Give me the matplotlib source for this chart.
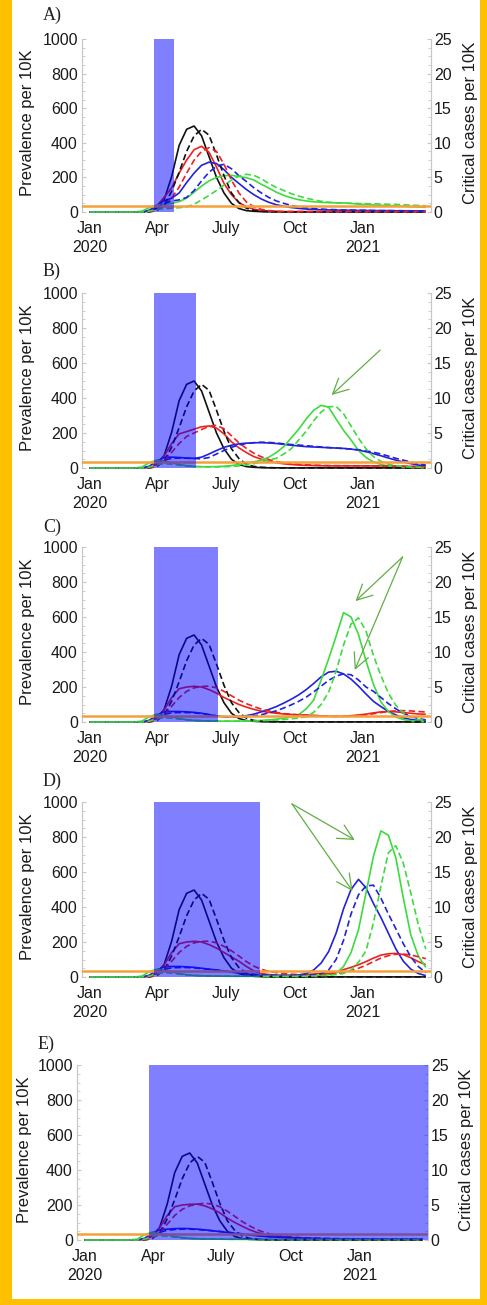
import matplotlib
matplotlib.use("Agg")
import matplotlib.pyplot as plt
from matplotlib.patches import Rectangle

plt.rcParams['font.family'] = ['Liberation Sans', 'DejaVu Sans']

# ---------------- data ----------------
DAYS = [0, 60, 70, 80, 90, 100, 110, 120, 130, 140, 150, 160, 170, 180, 190, 200,
        210, 220, 230, 240, 250, 260, 270, 280, 290, 300, 310, 320, 330, 340, 350,
        360, 370, 380, 390, 400, 410, 420, 430, 440, 450]

XTICKS = [0, 91, 182, 274, 366]
XTICK_LABELS = ['Jan\n2020', 'Apr', 'July', 'Oct', 'Jan\n2021']
YTICKS_LEFT = [0, 200, 400, 600, 800, 1000]
YTICKS_RIGHT = [0, 5, 10, 15, 20, 25]
CAPACITY = 0.8  # critical-care capacity per 10K (right axis)

# shared unmitigated (black) curves
BLACK_PREV = [0, 0, 0, 5, 22, 72, 205, 385, 478, 497, 440, 320, 200, 110, 50, 20, 8, 4, 2, 1, 1,
              0.5, 0.5, 0.5, 0.5, 0.5, 0.5, 0.5, 0.5, 0.5, 0.5, 0.5, 0.5, 0.5, 0.5, 0.5, 0.5, 0.5, 0.5, 0.5, 0.5]
BLACK_CRIT = [0, 0, 0, 0, 0.2, 1.0, 3.0, 5.75, 8.75, 11.0, 11.95, 11.1, 8.25, 5.25, 2.75, 1.35, 0.55, 0.22, 0.1, 0.05, 0.03,
              0.02, 0.02, 0.02, 0.02, 0.02, 0.02, 0.02, 0.02, 0.02, 0.02, 0.02, 0.02, 0.02, 0.02, 0.02, 0.02, 0.02, 0.02, 0.02, 0.02]

# Panel A
A_RED_PREV = [0, 0, 0, 8, 35, 85, 140, 225, 300, 360, 380, 345, 260, 165, 100, 55, 30, 16, 9, 6, 4,
              2, 2, 2, 2, 2, 2, 2, 2, 2, 2, 2, 2, 2, 2, 2, 2, 2, 2, 2, 2]
A_RED_CRIT = [0, 0, 0, 0.05, 0.25, 1.0, 2.0, 3.6, 5.6, 7.5, 8.75, 9.3, 8.75, 6.9, 4.6, 2.75, 1.45, 0.75, 0.38, 0.2, 0.12,
              0.08, 0.08, 0.08, 0.08, 0.08, 0.08, 0.08, 0.08, 0.08, 0.08, 0.08, 0.08, 0.08, 0.08, 0.08, 0.08, 0.08, 0.08, 0.08, 0.08]
A_BLUE_PREV = [0, 0, 0, 10, 35, 65, 80, 110, 170, 225, 270, 288, 280, 245, 200, 165, 130, 100, 75, 56, 42,
               33, 26, 21, 17, 15, 13, 12, 11, 10, 10, 9, 9, 8, 8, 8, 7, 7, 7, 6, 6]
A_BLUE_CRIT = [0, 0, 0, 0.08, 0.5, 1.25, 1.6, 1.75, 2.1, 3.1, 4.5, 5.75, 6.6, 6.9, 6.25, 5.25, 4.4, 3.5, 2.75, 2.1, 1.6,
               1.25, 0.95, 0.75, 0.6, 0.5, 0.42, 0.37, 0.33, 0.3, 0.28, 0.26, 0.24, 0.22, 0.2, 0.2, 0.19, 0.18, 0.17, 0.16, 0.15]
A_GREEN_PREV = [0, 0, 5, 25, 40, 45, 50, 60, 80, 115, 150, 180, 200, 210, 212, 205, 198, 185, 160, 138, 115,
                96, 82, 71, 64, 59, 56, 54, 53, 52, 50, 45, 43, 41, 39, 37, 35, 33, 31, 29, 27]
A_GREEN_CRIT = [0, 0, 0, 0.12, 0.38, 0.5, 0.55, 0.62, 0.75, 1.12, 1.75, 2.38, 3.12, 3.88, 4.62, 5.2, 5.45, 5.3, 4.8, 4.12, 3.55,
                3.1, 2.65, 2.3, 2.0, 1.75, 1.55, 1.42, 1.32, 1.28, 1.25, 1.22, 1.2, 1.18, 1.15, 1.12, 1.1, 1.05, 1.0, 0.95, 0.9]

# Panel B
B_RED_PREV = [0, 0, 0, 5, 25, 70, 140, 195, 208, 222, 236, 240, 228, 195, 150, 115, 88, 65, 50, 38, 30,
              24, 20, 17, 15, 14, 13, 12, 12, 12, 12, 12, 12, 12, 12, 12, 11, 10, 9, 8, 8]
B_RED_CRIT = [0, 0, 0, 0, 0.25, 1.0, 2.25, 3.5, 4.5, 5.0, 5.5, 5.95, 6.1, 5.6, 4.6, 3.6, 2.8, 2.1, 1.6, 1.2, 0.92,
              0.75, 0.62, 0.52, 0.45, 0.4, 0.37, 0.35, 0.34, 0.33, 0.32, 0.32, 0.31, 0.3, 0.29, 0.28, 0.26, 0.24, 0.22, 0.2, 0.2]
B_BLUE_PREV = [0, 0, 0, 10, 40, 60, 62, 60, 57, 55, 62, 80, 100, 118, 130, 138, 142, 144, 145, 143, 140,
               135, 130, 126, 122, 120, 118, 116, 114, 112, 108, 102, 93, 82, 70, 57, 45, 34, 25, 17, 11]
B_BLUE_CRIT = [0, 0, 0, 0.08, 0.62, 1.12, 1.38, 1.42, 1.4, 1.35, 1.3, 1.5, 2.0, 2.5, 2.95, 3.3, 3.5, 3.62, 3.68, 3.65, 3.58,
               3.45, 3.35, 3.28, 3.18, 3.1, 3.0, 2.92, 2.85, 2.78, 2.7, 2.6, 2.45, 2.25, 2.0, 1.7, 1.38, 1.12, 0.85, 0.6, 0.42]
B_GREEN_PREV = [0, 0, 5, 30, 45, 40, 30, 20, 13, 9, 7, 7, 8, 10, 14, 20, 28, 35, 45, 62, 88,
                122, 172, 222, 280, 330, 358, 348, 280, 215, 160, 100, 60, 35, 20, 12, 8, 5, 4, 3, 3]
B_GREEN_CRIT = [0, 0, 0, 0.12, 0.5, 0.62, 0.55, 0.42, 0.3, 0.22, 0.18, 0.15, 0.15, 0.18, 0.22, 0.3, 0.42, 0.62, 0.88, 1.12, 1.38,
                2.0, 2.75, 4.0, 5.25, 6.75, 8.0, 8.75, 8.8, 7.75, 6.0, 4.25, 2.75, 1.62, 0.95, 0.55, 0.32, 0.2, 0.12, 0.1, 0.08]

# Panel C
C_RED_PREV = [0, 0, 0, 5, 25, 70, 140, 190, 200, 204, 200, 185, 165, 140, 120, 100, 85, 72, 62, 55, 50,
              46, 43, 41, 39, 37, 35, 33, 32, 33, 36, 40, 45, 52, 58, 60, 58, 54, 50, 46, 44]
C_RED_CRIT = [0, 0, 0, 0, 0.25, 1.0, 2.25, 3.5, 4.38, 4.88, 5.08, 5.12, 4.88, 4.38, 3.75, 3.12, 2.62, 2.2, 1.85, 1.58, 1.38,
              1.2, 1.1, 1.02, 0.98, 0.92, 0.88, 0.82, 0.8, 0.8, 0.85, 0.92, 1.02, 1.18, 1.35, 1.5, 1.6, 1.62, 1.58, 1.5, 1.42]
C_BLUE_PREV = [0, 0, 0, 10, 40, 58, 60, 60, 58, 55, 50, 42, 35, 30, 30, 32, 36, 45, 58, 72, 88,
               108, 130, 155, 185, 220, 258, 285, 290, 275, 245, 205, 160, 118, 88, 60, 40, 24, 14, 9, 6]
C_BLUE_CRIT = [0, 0, 0, 0.08, 0.62, 1.12, 1.3, 1.35, 1.35, 1.3, 1.2, 1.05, 0.88, 0.75, 0.7, 0.7, 0.75, 0.88, 1.05, 1.3, 1.6,
               2.0, 2.45, 2.95, 3.55, 4.3, 5.12, 5.95, 6.55, 6.88, 6.75, 6.0, 5.0, 4.38, 3.5, 2.62, 1.88, 1.25, 0.8, 0.5, 0.3]
C_GREEN_PREV = [0, 0, 5, 30, 45, 40, 30, 20, 13, 9, 7, 6, 5, 5, 5, 5, 6, 7, 9, 12, 16,
                22, 30, 42, 75, 125, 240, 360, 490, 625, 600, 500, 350, 215, 115, 60, 28, 14, 7, 4, 3]
C_GREEN_CRIT = [0, 0, 0, 0.12, 0.5, 0.62, 0.55, 0.42, 0.3, 0.22, 0.18, 0.15, 0.12, 0.12, 0.12, 0.12, 0.12, 0.15, 0.18, 0.22, 0.28,
                0.35, 0.45, 0.58, 0.75, 1.38, 2.5, 4.25, 7.25, 11.0, 14.0, 14.88, 13.0, 9.5, 6.62, 4.12, 2.38, 1.3, 0.7, 0.38, 0.2]

# Panel D
D_RED_PREV = [0, 0, 0, 5, 25, 70, 140, 190, 200, 204, 200, 185, 165, 140, 115, 90, 60, 35, 20, 14, 11,
              10, 10, 12, 14, 17, 20, 20, 28, 42, 55, 70, 88, 108, 125, 133, 135, 128, 110, 88, 70]
D_RED_CRIT = [0, 0, 0, 0, 0.25, 1.0, 2.25, 3.5, 4.38, 4.88, 5.08, 5.12, 4.88, 4.38, 3.75, 3.0, 2.2, 1.55, 1.1, 0.8, 0.62,
              0.5, 0.4, 0.35, 0.32, 0.32, 0.35, 0.4, 0.5, 0.68, 0.92, 1.25, 1.68, 2.2, 2.7, 3.05, 3.25, 3.28, 3.15, 2.9, 2.62]
D_BLUE_PREV = [0, 0, 0, 10, 40, 58, 60, 60, 58, 55, 50, 45, 40, 34, 28, 22, 17, 13, 10, 9, 8,
               8, 9, 11, 20, 40, 80, 145, 250, 390, 500, 558, 510, 420, 340, 250, 160, 90, 45, 20, 8]
D_BLUE_CRIT = [0, 0, 0, 0.08, 0.62, 1.12, 1.3, 1.35, 1.35, 1.3, 1.2, 1.1, 1.0, 0.88, 0.75, 0.62, 0.5, 0.4, 0.32, 0.28, 0.25,
               0.22, 0.22, 0.25, 0.28, 0.3, 0.5, 1.0, 2.5, 5.25, 9.0, 11.75, 13.0, 13.12, 11.25, 9.0, 6.88, 4.75, 2.88, 1.5, 0.62]
D_GREEN_PREV = [0, 0, 5, 30, 45, 40, 30, 20, 13, 9, 7, 6, 5, 5, 4, 4, 4, 4, 4, 4, 4,
                4, 4, 5, 6, 8, 10, 13, 20, 60, 140, 270, 480, 690, 835, 810, 680, 450, 240, 120, 55]
D_GREEN_CRIT = [0, 0, 0, 0.12, 0.5, 0.62, 0.55, 0.42, 0.3, 0.22, 0.18, 0.15, 0.12, 0.12, 0.1, 0.1, 0.1, 0.1, 0.1, 0.1, 0.1,
                0.1, 0.1, 0.1, 0.12, 0.15, 0.2, 0.25, 0.35, 0.5, 1.0, 2.12, 3.75, 7.75, 13.0, 17.75, 18.75, 16.25, 12.0, 7.5, 4.0]

# Panel E
E_RED_PREV = [0, 0, 0, 5, 25, 70, 140, 190, 200, 204, 205, 195, 178, 155, 125, 100, 78, 58, 42, 32, 25,
              20, 16, 13, 11, 9, 8, 7, 6, 6, 5, 5, 5, 5, 4, 4, 4, 4, 4, 4, 4]
E_RED_CRIT = [0, 0, 0, 0, 0.25, 1.0, 2.25, 3.5, 4.38, 4.88, 5.12, 5.25, 5.12, 4.75, 4.12, 3.38, 2.62, 2.0, 1.45, 1.05, 0.8,
              0.62, 0.5, 0.4, 0.32, 0.28, 0.25, 0.22, 0.2, 0.18, 0.18, 0.15, 0.15, 0.15, 0.12, 0.12, 0.12, 0.12, 0.12, 0.12, 0.12]
E_BLUE_PREV = [0, 0, 0, 10, 40, 58, 62, 65, 66, 65, 62, 58, 53, 48, 43, 38, 33, 28, 24, 20, 17,
               15, 13, 11, 10, 9, 8, 7, 7, 6, 6, 5, 5, 5, 5, 5, 4, 4, 4, 4, 4]
E_BLUE_CRIT = [0, 0, 0, 0.08, 0.62, 1.12, 1.38, 1.5, 1.55, 1.55, 1.5, 1.42, 1.32, 1.22, 1.12, 1.0, 0.88, 0.75, 0.65, 0.55, 0.48,
               0.4, 0.35, 0.3, 0.28, 0.25, 0.22, 0.2, 0.18, 0.18, 0.15, 0.15, 0.15, 0.12, 0.12, 0.12, 0.12, 0.12, 0.12, 0.12, 0.12]
E_GREEN_PREV = [0, 0, 5, 30, 45, 40, 30, 20, 13, 9, 7, 6, 5, 5, 4, 4, 4, 3, 3, 3, 3,
                3, 3, 3, 3, 3, 3, 3, 3, 3, 3, 3, 3, 3, 3, 3, 3, 3, 3, 3, 3]
E_GREEN_CRIT = [0, 0, 0, 0.12, 0.5, 0.62, 0.55, 0.42, 0.3, 0.22, 0.18, 0.15, 0.12, 0.12, 0.1, 0.1, 0.1, 0.08, 0.08, 0.08, 0.08,
                0.08, 0.08, 0.08, 0.08, 0.08, 0.08, 0.08, 0.08, 0.08, 0.08, 0.08, 0.08, 0.08, 0.08, 0.08, 0.08, 0.08, 0.08, 0.08, 0.08]

LABELS = ['A)', 'B)', 'C)', 'D)', 'E)']
INTERVENTION_START = [86, 87, 87, 87, 86]
INTERVENTION_END = [113, 143, 172, 228, 470]
# arrows: (start day, start prevalence) -> (tip day, tip prevalence)
ARROWS = [
    [],
    [((389, 674), (324, 417))],
    [((419, 943), (356, 691)), ((419, 943), (355, 297))],
    [((271, 989), (355, 783)), ((271, 989), (352, 491))],
    [],
]

PANEL_DATA = [
    (A_RED_PREV, A_RED_CRIT, A_BLUE_PREV, A_BLUE_CRIT, A_GREEN_PREV, A_GREEN_CRIT),
    (B_RED_PREV, B_RED_CRIT, B_BLUE_PREV, B_BLUE_CRIT, B_GREEN_PREV, B_GREEN_CRIT),
    (C_RED_PREV, C_RED_CRIT, C_BLUE_PREV, C_BLUE_CRIT, C_GREEN_PREV, C_GREEN_CRIT),
    (D_RED_PREV, D_RED_CRIT, D_BLUE_PREV, D_BLUE_CRIT, D_GREEN_PREV, D_GREEN_CRIT),
    (E_RED_PREV, E_RED_CRIT, E_BLUE_PREV, E_BLUE_CRIT, E_GREEN_PREV, E_GREEN_CRIT),
]

# ---------------- layout (pixels) ----------------
W, H = 487, 1305
# (left, right, y of 1000, y of 0)
BOXES = [(82, 431, 39, 212), (82, 431, 293, 468), (82, 431, 547, 722),
         (82, 431, 802, 977), (77, 428, 1065, 1240)]
LABEL_POS = [(43, 15), (43, 271), (43, 527), (43, 781), (38, 1044)]
YLAB_X = [28, 28, 28, 28, 25]
Y2LAB_X = [471, 471, 471, 471, 466]

COL_BLACK = '#111111'
COL_RED = '#EE2020'
COL_BLUE = '#2222DD'
COL_GREEN = '#3EDB3E'
COL_ORANGE = '#F5A03A'
COL_ARROW = '#62AE45'
COL_RECT = '#0000FF'
SPINE = '#C8C8C8'
FS = 11.5

fig = plt.figure(figsize=(W / 100, H / 100), dpi=100)
fig.patch.set_facecolor('white')

YMIN = -10
for i in range(5):
    L, R, T, B0 = BOXES[i]
    bottom_px = B0 + (B0 - T) * (-YMIN) / 1000.0
    ax = fig.add_axes([L / W, 1 - bottom_px / H, (R - L) / W, (bottom_px - T) / H])
    ax.set_facecolor('none')
    ax2 = ax.twinx()
    ax.set_xlim(-10, 457)
    ax.set_ylim(YMIN, 1000)
    ax2.set_ylim(YMIN / 40.0, 25)

    red_p, red_c, blue_p, blue_c, green_p, green_c = PANEL_DATA[i]
    lw = 1.2
    for vals, col in [(BLACK_PREV, COL_BLACK), (red_p, COL_RED), (blue_p, COL_BLUE), (green_p, COL_GREEN)]:
        ax.plot(DAYS, vals, color=col, lw=lw, solid_capstyle='butt', solid_joinstyle='round', zorder=2)
    for vals, col in [(BLACK_CRIT, COL_BLACK), (red_c, COL_RED), (blue_c, COL_BLUE), (green_c, COL_GREEN)]:
        ax2.plot(DAYS, vals, color=col, lw=lw, dashes=(3.8, 2.0), zorder=2)

    ax2.axhline(CAPACITY, color=COL_ORANGE, lw=1.8, zorder=3)
    ax2.axvspan(INTERVENTION_START[i], INTERVENTION_END[i], ymin=-YMIN / 1010.0, ymax=1.0,
                facecolor=COL_RECT, alpha=0.5, lw=0, zorder=5)

    for (s, t) in ARROWS[i]:
        ax.annotate('', xy=t, xytext=s, xycoords='data', textcoords='data',
                    arrowprops=dict(arrowstyle='->,head_length=1.1,head_width=0.55',
                                    color=COL_ARROW, lw=0.9, shrinkA=0, shrinkB=0),
                    annotation_clip=False)

    # ticks and spines
    ax.set_xticks(XTICKS)
    ax.set_xticklabels(XTICK_LABELS, fontsize=FS, linespacing=1.35, color='#1a1a1a')
    ax.tick_params(axis='x', length=0, pad=5)
    ax.set_yticks(YTICKS_LEFT)
    ax.set_yticklabels([str(v) for v in YTICKS_LEFT], fontsize=FS, color='#1a1a1a')
    ax.set_yticks([50, 100, 150, 250, 300, 350, 450, 500, 550, 650, 700, 750, 850, 900, 950], minor=True)
    ax.tick_params(axis='y', which='major', direction='in', length=3, color=SPINE, pad=3)
    ax.tick_params(axis='y', which='minor', direction='in', length=2, color=SPINE)
    ax2.set_yticks(YTICKS_RIGHT)
    ax2.set_yticklabels([str(v) for v in YTICKS_RIGHT], fontsize=FS, color='#1a1a1a')
    ax2.set_yticks([1.25, 2.5, 3.75, 6.25, 7.5, 8.75, 11.25, 12.5, 13.75, 16.25, 17.5, 18.75,
                    21.25, 22.5, 23.75], minor=True)
    ax2.tick_params(axis='y', which='major', direction='in', length=3, color=SPINE, pad=2)
    ax2.tick_params(axis='y', which='minor', direction='in', length=2, color=SPINE)
    for a in (ax, ax2):
        a.spines['top'].set_visible(False)
        a.spines['bottom'].set_visible(False)
        a.spines['left'].set_color(SPINE)
        a.spines['right'].set_color(SPINE)
        a.spines['left'].set_bounds(0, 1000 if a is ax else 25)
        a.spines['right'].set_bounds(0, 1000 if a is ax else 25)

    yc = 1 - ((T + B0) / 2.0 - 3) / H
    fig.text(YLAB_X[i] / W, yc, 'Prevalence per 10K', rotation=90, ha='center', va='center',
             fontsize=FS + 0.5, color='#1a1a1a')
    fig.text(Y2LAB_X[i] / W, yc, 'Critical cases per 10K', rotation=90, ha='center', va='center',
             fontsize=FS + 0.5, color='#1a1a1a')
    lx, ly = LABEL_POS[i]
    fig.text(lx / W, 1 - ly / H, LABELS[i], ha='left', va='center', fontsize=13,
             family='Liberation Serif', color='#222222')

# orange frame
BORDER = '#FFC000'
for (x0, y0, w, h) in [(0, 0, 12, H), (480, 0, 7, H), (0, H - 6, W, 6)]:
    fig.add_artist(Rectangle((x0 / W, 1 - (y0 + h) / H), w / W, h / H,
                             transform=fig.transFigure, facecolor=BORDER, edgecolor='none', zorder=20))

fig.savefig('out.png', dpi=100)
